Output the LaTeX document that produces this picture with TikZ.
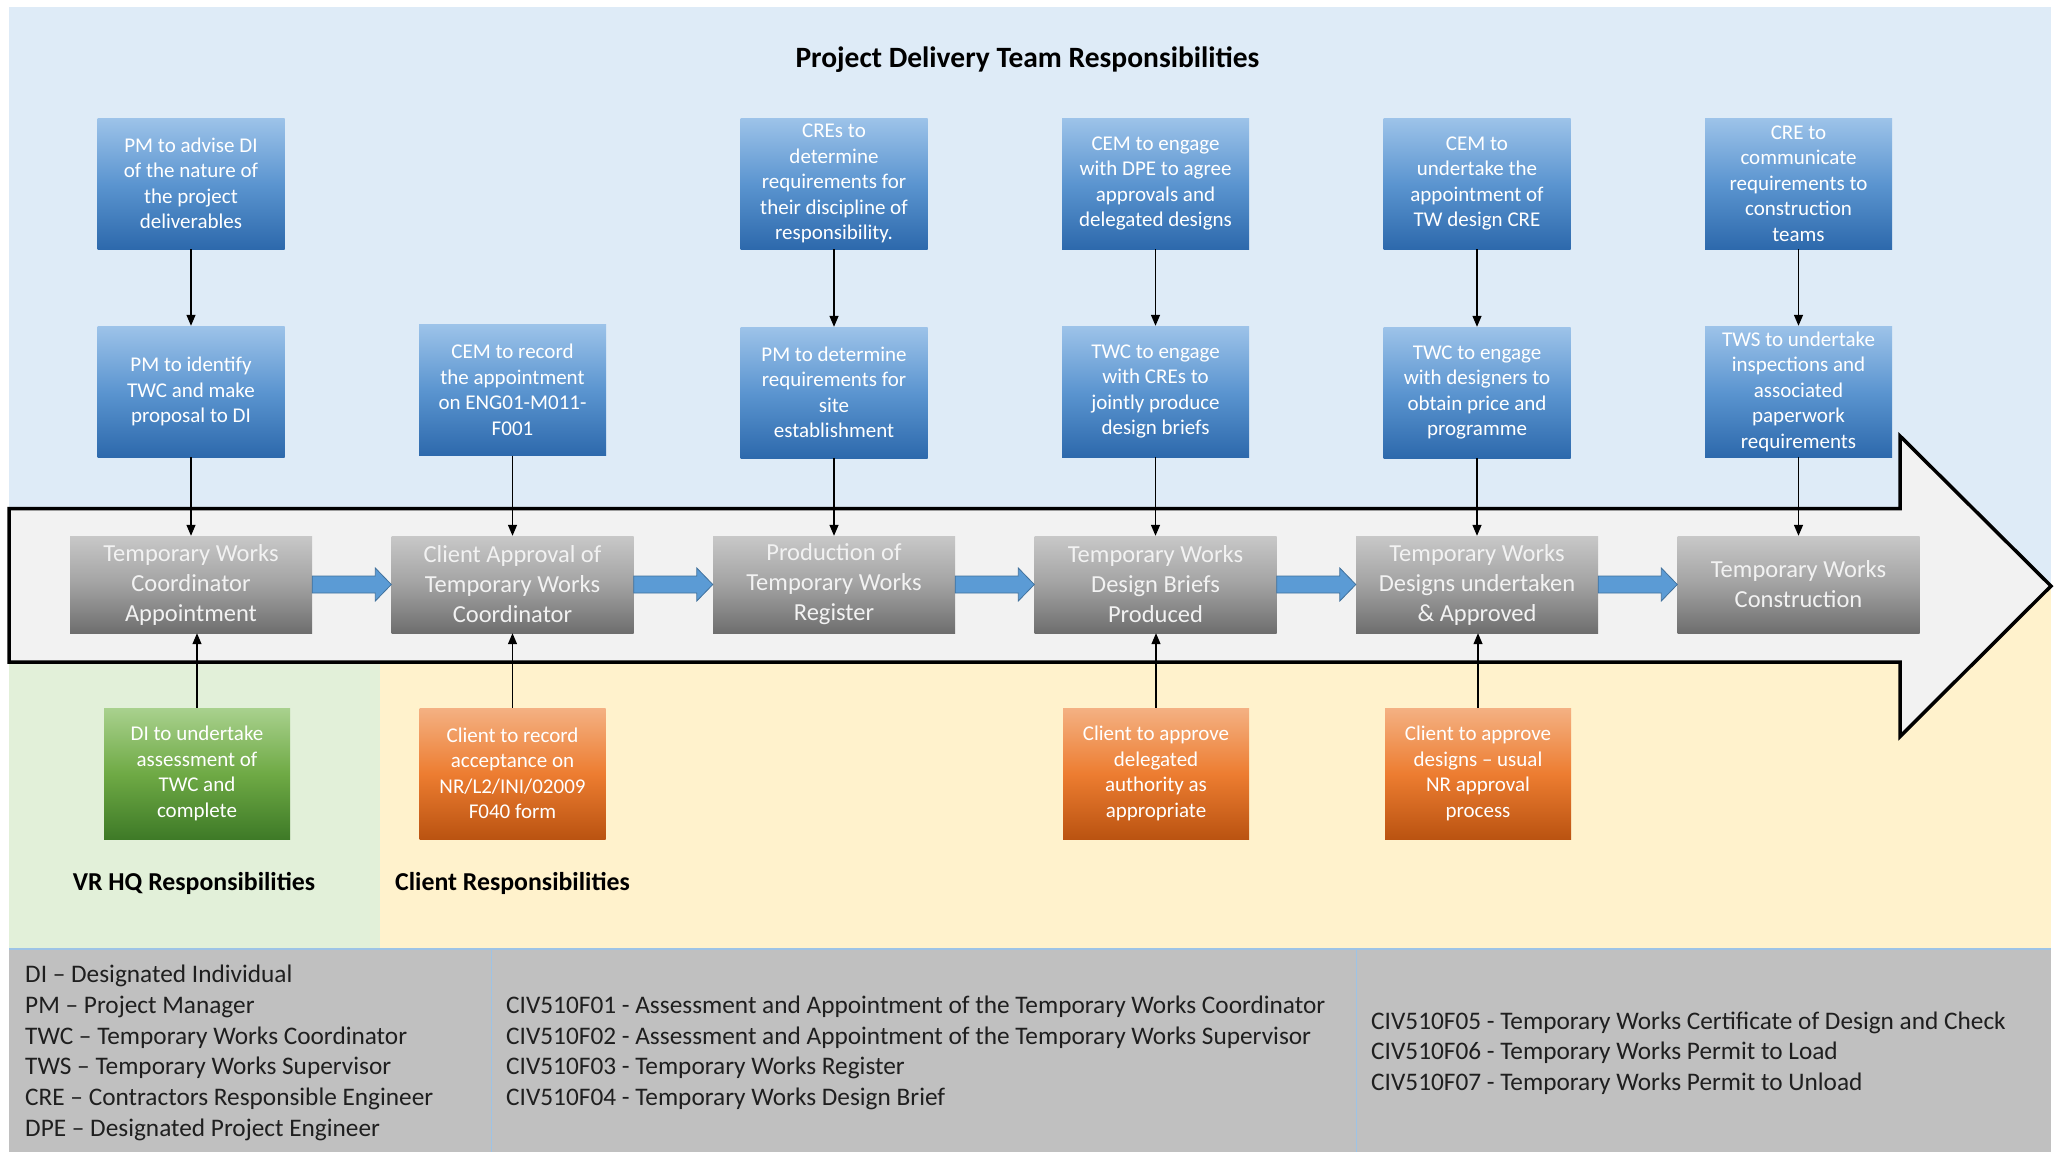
\documentclass[tikz,border=0pt]{standalone}
\usepackage{fontspec}
\setmainfont{Carlito}
\usetikzlibrary{arrows.meta}
\definecolor{bgblue}{HTML}{DEEBF7}
\definecolor{bggreen}{HTML}{E2F0D9}
\definecolor{bgyellow}{HTML}{FFF2CC}
\definecolor{bandfill}{HTML}{F2F2F2}
\definecolor{panelgray}{HTML}{C0C0C0}
\definecolor{panelline}{HTML}{9DC3E6}
\definecolor{bTop}{HTML}{9DC3E9}
\definecolor{bMid}{HTML}{5B95D0}
\definecolor{bBot}{HTML}{2D69AC}
\definecolor{gTop}{HTML}{C8C8C8}
\definecolor{gMid}{HTML}{A2A2A2}
\definecolor{gBot}{HTML}{6E6E6E}
\definecolor{grTop}{HTML}{A9D18E}
\definecolor{grMid}{HTML}{6FAA45}
\definecolor{grBot}{HTML}{3E7A27}
\definecolor{oTop}{HTML}{F4B183}
\definecolor{oMid}{HTML}{ED7D31}
\definecolor{oBot}{HTML}{BA5311}
\definecolor{flowblue}{HTML}{5B9BD5}
\definecolor{flowedge}{HTML}{41719C}
\newcommand{\flowarrow}[2]{%
  \filldraw[fill=flowblue,draw=flowedge,line width=0.8pt]
    ([yshift=8.5pt]#1.east) -- ([xshift=-16pt,yshift=8.5pt]#2.west)
    -- ([xshift=-16pt,yshift=16.5pt]#2.west) -- (#2.west)
    -- ([xshift=-16pt,yshift=-16.5pt]#2.west) -- ([xshift=-16pt,yshift=-8.5pt]#2.west)
    -- ([yshift=-8.5pt]#1.east) -- cycle;}
\begin{document}
\begin{tikzpicture}[x=1pt,y=-1pt,
  boxbase/.style={rectangle, inner sep=0pt, align=center, text=white},
  bluebox/.style={boxbase, minimum width=187pt, minimum height=131pt,
     top color=bTop, bottom color=bBot, middle color=bMid,
     font=\fontsize{21}{25.5}\selectfont},
  graybox/.style={boxbase, minimum width=242pt, minimum height=97pt,
     top color=gTop, bottom color=gBot, middle color=gMid, text=white!95!black,
     font=\fontsize{24.5}{30}\selectfont},
  greenbox/.style={boxbase, minimum width=186pt, minimum height=131pt,
     top color=grTop, bottom color=grBot, middle color=grMid,
     font=\fontsize{21}{25.5}\selectfont},
  orangebox/.style={boxbase, minimum width=186pt, minimum height=131pt,
     top color=oTop, bottom color=oBot, middle color=oMid,
     font=\fontsize{21}{25.5}\selectfont},
  conn/.style={line width=1.3pt, -{Triangle[length=11pt,width=9pt]}},
  headtext/.style={font=\bfseries\fontsize{29.5}{35}\selectfont, text=black},
  lanetext/.style={font=\bfseries\fontsize{25.8}{30}\selectfont, text=black},
  legend/.style={anchor=west, align=left, inner sep=0pt, text=black!88,
     font=\fontsize{25.3}{30.7}\selectfont},
  band/.style={fill=bandfill, draw=black, line width=3.5pt, line join=miter}
]
\useasboundingbox (0,0) rectangle (2055,1152);
\fill[white] (0,0) rectangle (2055,1152);
% background regions
\fill[bgblue] (9,6.5) rectangle (2051,586);
\fill[bgyellow] (380,586) rectangle (2051,949);
\fill[bggreen] (9,586) rectangle (380,949);
% big process arrow
\draw[band] (9,508.5) -- (1900,508.5) -- (1900,436) -- (2051,586)
   -- (1900,736.5) -- (1900,662) -- (9,662) -- cycle;
% legend panel
\fill[panelgray] (9,949) rectangle (2051,1152);
\draw[panelline, line width=2pt] (9,949) -- (2051,949);
\draw[panelline, line width=1.5pt] (491.5,949) -- (491.5,1152);
\draw[panelline, line width=1.5pt] (1356.5,949) -- (1356.5,1152);

% title
\node[headtext] (title) at (1027.5,60) {Project Delivery Team Responsibilities};

% top row
\node[bluebox] (t1) at (191,183.5) {PM to advise DI\\of the nature of\\the project\\deliverables};
\node[bluebox] (t3) at (834,183.5) {CREs to\\determine\\requirements for\\their discipline of\\responsibility.};
\node[bluebox] (t4) at (1155.5,183.5) {CEM to engage\\with DPE to agree\\approvals and\\delegated designs};
\node[bluebox] (t5) at (1477,183.5) {CEM to\\undertake the\\appointment of\\TW design CRE};
\node[bluebox] (t6) at (1798.5,183.5) {CRE to\\communicate\\requirements to\\construction\\teams};

% second row
\node[bluebox] (s1) at (191,391.5) {PM to identify\\TWC and make\\proposal to DI};
\node[bluebox] (s2) at (512.5,390) {CEM to record\\the appointment\\on ENG01-M011-\\F001};
\node[bluebox] (s3) at (834,392.5) {PM to determine\\requirements for\\site\\establishment};
\node[bluebox] (s4) at (1155.5,391.5) {TWC to engage\\with CREs to\\jointly produce\\design briefs};
\node[bluebox] (s5) at (1477,392.5) {TWC to engage\\with designers to\\obtain price and\\programme};
\node[bluebox] (s6) at (1798.5,391.5) {TWS to undertake\\inspections and\\associated\\paperwork\\requirements};

% process steps
\node[graybox] (g1) at (191,584.5) {Temporary Works\\Coordinator\\Appointment};
\node[graybox] (g2) at (512.5,584.5) {Client Approval of\\Temporary Works\\Coordinator};
\node[graybox] (g3) at (834,584.5) {Production of\\Temporary Works\\Register};
\node[graybox] (g4) at (1155.5,584.5) {Temporary Works\\Design Briefs\\Produced};
\node[graybox] (g5) at (1477,584.5) {Temporary Works\\Designs undertaken\\\& Approved};
\node[graybox] (g6) at (1798.5,584.5) {Temporary Works\\Construction};

% bottom row
\node[greenbox] (b1) at (197,773.5) {DI to undertake\\assessment of\\TWC and\\complete};
\node[orangebox] (b2) at (512.5,773.5) {Client to record\\acceptance on\\NR/L2/INI/02009\\F040 form};
\node[orangebox] (b4) at (1156,773.5) {Client to approve\\delegated\\authority as\\appropriate};
\node[orangebox] (b5) at (1478,773.5) {Client to approve\\designs – usual\\NR approval\\process};

% lane labels
\node[lanetext] (vrhq) at (194,883) {VR HQ Responsibilities};
\node[lanetext] (client) at (512.5,883) {Client Responsibilities};

% connectors top -> second row
\draw[conn] (t1) -- (s1);
\draw[conn] (t3) -- (s3);
\draw[conn] (t4) -- (s4);
\draw[conn] (t5) -- (s5);
\draw[conn] (t6) -- (s6);
% second row -> steps
\draw[conn] (s1) -- (g1);
\draw[conn] (s2) -- (g2);
\draw[conn] (s3) -- (g3);
\draw[conn] (s4) -- (g4);
\draw[conn] (s5) -- (g5);
\draw[conn] (s6) -- (g6);
% bottom row -> steps
\draw[conn] (b1.north) -- (b1.north |- g1.south);
\draw[conn] (b2.north) -- (b2.north |- g2.south);
\draw[conn] (b4.north) -- (b4.north |- g4.south);
\draw[conn] (b5.north) -- (b5.north |- g5.south);

% flow arrows
\flowarrow{g1}{g2}
\flowarrow{g2}{g3}
\flowarrow{g3}{g4}
\flowarrow{g4}{g5}
\flowarrow{g5}{g6}

% legend texts
\node[legend] (abbr) at (25,1053) {DI – Designated Individual\\PM – Project Manager\\TWC – Temporary Works Coordinator\\TWS – Temporary Works Supervisor\\CRE – Contractors Responsible Engineer\\DPE – Designated Project Engineer};
\node[legend] (forms1) at (506,1053) {CIV510F01 - Assessment and Appointment of the Temporary Works Coordinator\\CIV510F02 - Assessment and Appointment of the Temporary Works Supervisor\\CIV510F03 - Temporary Works Register\\CIV510F04 - Temporary Works Design Brief};
\node[legend] (forms2) at (1371,1053) {CIV510F05 - Temporary Works Certificate of Design and Check\\CIV510F06 - Temporary Works Permit to Load\\CIV510F07 - Temporary Works Permit to Unload};
\end{tikzpicture}
\end{document}
